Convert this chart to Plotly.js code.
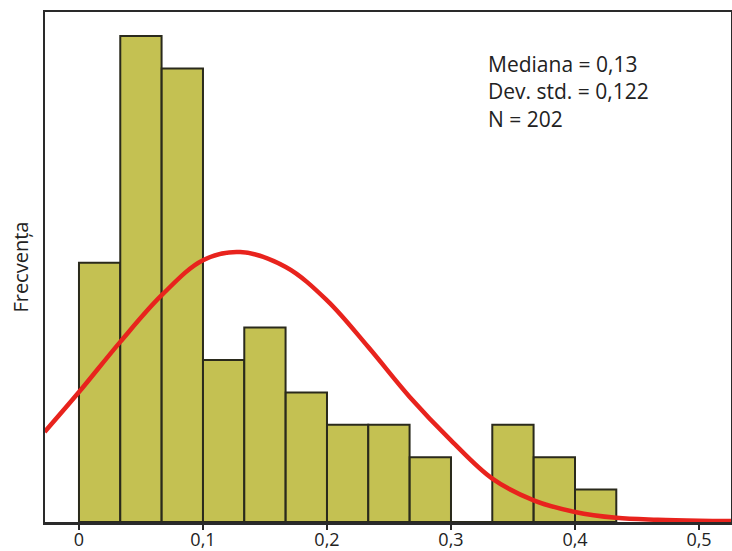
<!DOCTYPE html>
<html>
<head>
<meta charset="utf-8">
<script src="https://cdn.plot.ly/plotly-3.0.1.min.js"></script>
<style>html,body{margin:0;padding:0;background:#fff;}#chart{width:732px;height:551px;}</style>
</head>
<body>
<div id="chart"></div>
<script>
// Histogram bins (left edge of each bin) and counts
const binLo = [0.0000, 0.0333, 0.0667, 0.1000, 0.1333, 0.1667, 0.2000, 0.2333, 0.2667, 0.3000, 0.3333, 0.3667, 0.4000];
const binWidth = 0.0333;
const counts = [8, 15, 14, 5, 6, 4, 3, 3, 2, 0, 3, 2, 1];

// Fitted normal curve
const curveX = [-0.0277, 0.0000, 0.0333, 0.0667, 0.1000, 0.1300, 0.1667, 0.2000, 0.2333, 0.2667, 0.3000, 0.3333, 0.3667, 0.4000, 0.4333, 0.4667, 0.5000, 0.5260];
const curveY = [2.78, 4.01, 5.56, 7.00, 8.08, 8.33, 7.87, 6.84, 5.40, 3.86, 2.52, 1.34, 0.67, 0.31, 0.13, 0.07, 0.04, 0.03];

// Tick labels
const tickVals = [0, 0.1, 0.2, 0.3, 0.4, 0.5];
const tickText = ['0', '0,1', '0,2', '0,3', '0,4', '0,5'];

const statsLines = ['Mediana = 0,13', 'Dev. std. = 0,122', 'N = 202'];
const yLabel = 'Frecvența';

const FONT = 'Open Sans, Noto Sans, sans-serif';

const traces = [
  {
    type: 'bar',
    x: binLo,
    y: counts,
    width: binLo.map(() => binWidth),
    offset: 0,
    marker: { color: '#c4c152', line: { color: '#2a2a1c', width: 2 } },
    hoverinfo: 'skip',
    showlegend: false
  },
  {
    type: 'scatter',
    mode: 'lines',
    x: curveX,
    y: curveY,
    line: { color: '#e8231d', width: 4.5, shape: 'spline', smoothing: 1 },
    hoverinfo: 'skip',
    showlegend: false
  }
];

const layout = {
  width: 732,
  height: 551,
  margin: { l: 45, r: 1, t: 12, b: 29, pad: 0 },
  paper_bgcolor: '#ffffff',
  plot_bgcolor: '#ffffff',
  bargap: 0,
  showlegend: false,
  xaxis: {
    range: [-0.0274, 0.5258],
    tickvals: tickVals,
    ticktext: tickText,
    ticks: 'outside',
    ticklen: 5,
    tickwidth: 2,
    tickcolor: '#2a2a2a',
    ticklabelstandoff: -5,
    tickfont: { family: FONT, size: 18, color: '#222' },
    showgrid: false,
    zeroline: false,
    showline: true,
    mirror: true,
    linecolor: '#2a2a2a',
    linewidth: 2.5,
    automargin: false
  },
  yaxis: {
    range: [0, 15.74],
    showticklabels: false,
    ticks: '',
    showgrid: false,
    zeroline: false,
    showline: true,
    mirror: true,
    linecolor: '#2a2a2a',
    linewidth: 2.5
  },
  annotations: [
    {
      text: statsLines.join('<br>'),
      xref: 'paper', yref: 'paper',
      x: 0.643, y: 0.93,
      xanchor: 'left', yanchor: 'top',
      align: 'left',
      showarrow: false,
      font: { family: FONT, size: 21, color: '#222' }
    },
    {
      text: yLabel,
      xref: 'paper', yref: 'paper',
      x: -0.037, y: 0.5,
      xanchor: 'center', yanchor: 'middle',
      textangle: -90,
      showarrow: false,
      font: { family: FONT, size: 20, color: '#222' }
    }
  ]
};

Plotly.newPlot('chart', traces, layout, { displayModeBar: false, staticPlot: true });
</script>
</body>
</html>
